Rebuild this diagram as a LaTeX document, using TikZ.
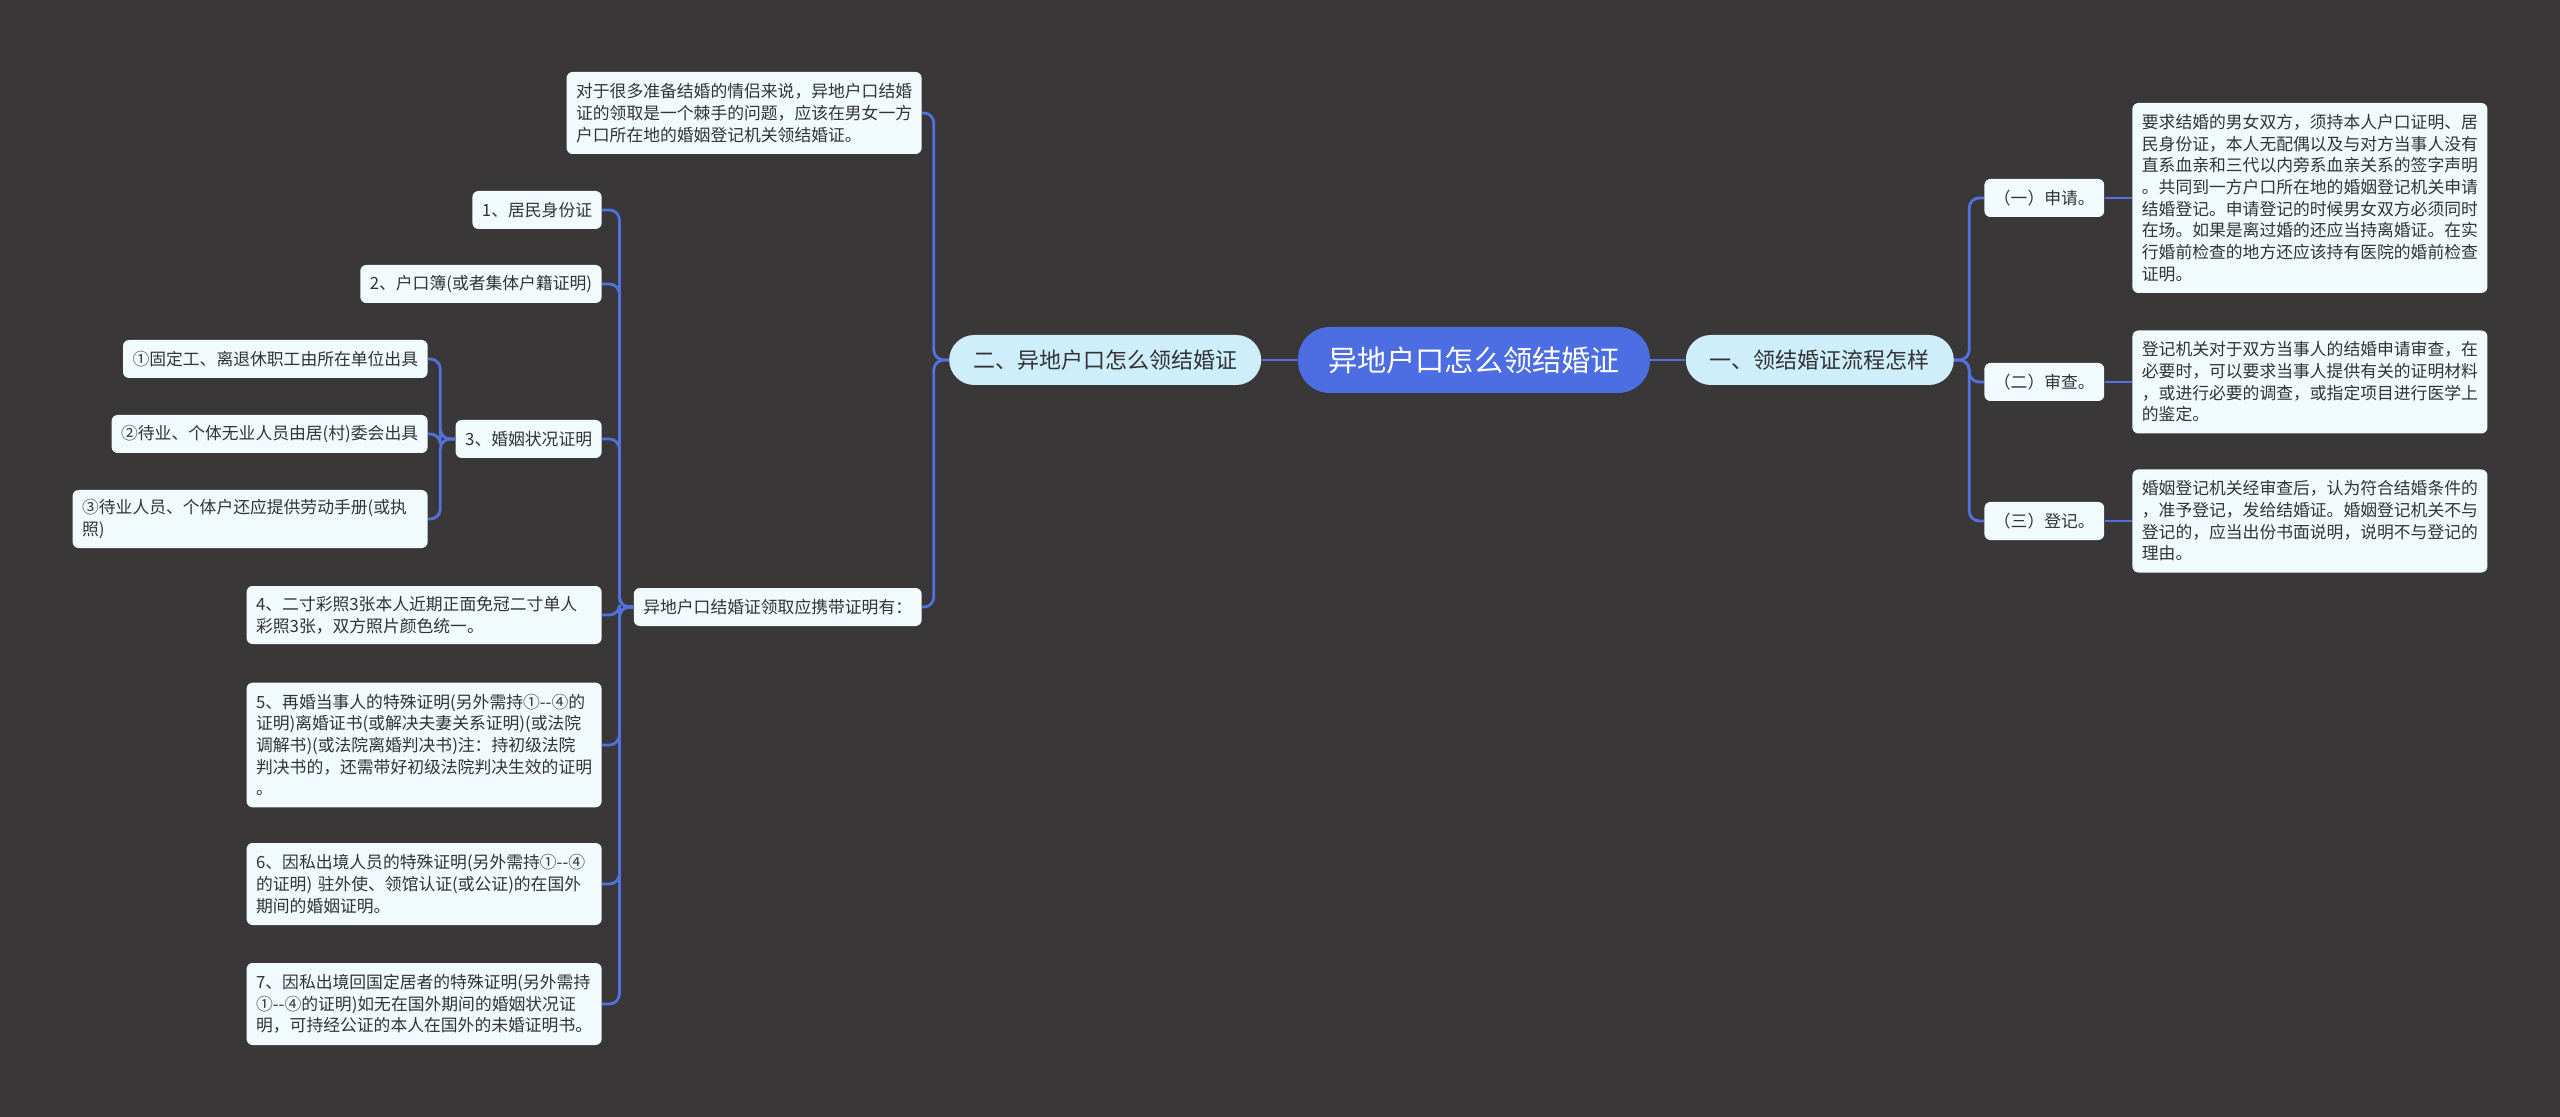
\documentclass[tikz,border=0pt]{standalone}
\usepackage{fontspec}
\setmainfont{Noto Sans CJK SC}
\usepackage{tikz}
\usepackage{xcolor}
\usetikzlibrary{positioning}
\definecolor{bgdark}{RGB}{57,55,55}
\definecolor{linkblue}{RGB}{82,112,222}
\definecolor{rootblue}{RGB}{76,110,226}
\definecolor{branchcyan}{RGB}{206,238,251}
\definecolor{leafwhite}{RGB}{241,250,253}
\definecolor{inkgray}{RGB}{51,51,51}
\tikzstyle{rootbox}  = [rectangle, rounded corners=16pt, minimum height=33pt, inner xsep=15pt,
                        fill=rootblue, text=white, font=\fontsize{14.6}{17}\selectfont]
\tikzstyle{branch}   = [rectangle, rounded corners=12.5pt, minimum height=25pt, inner xsep=12pt,
                        fill=branchcyan, text=inkgray, font=\fontsize{11}{13}\selectfont]
\tikzstyle{leaf}     = [rectangle, rounded corners=3pt, minimum height=19pt, inner xsep=4.75pt,
                        inner ysep=3pt, fill=leafwhite, text=inkgray, align=left,
                        font=\fontsize{8.4}{10.85}\selectfont]
\tikzstyle{leafwide} = [leaf, text width=168pt]
\tikzstyle{link}     = [draw=linkblue, line width=1.4pt, rounded corners=5pt]

\begin{document}
\begin{tikzpicture}[x=0.5pt, y=-0.5pt]
    \fill[bgdark] (0,0) rectangle (2560,1117);
    \useasboundingbox (0,0) rectangle (2560,1117);

    % centre and the two branches
    \node (root) [rootbox] at (1474,360) {异地户口怎么领结婚证};
    \node (yi) [branch, right=17.5pt of root] {一、领结婚证流程怎样};
    \node (er) [branch, left=18pt of root] {二、异地户口怎么领结婚证};

    % right side
    \node (shenqing) [leaf, anchor=west] at (1984,198) {（一）申请。};
    \node (shencha) [leaf, anchor=west] at (1984,382) {（二）审查。};
    \node (dengji) [leaf, anchor=west] at (1984,521) {（三）登记。};
    \node (shenqingtxt) [leafwide, minimum height=95pt, anchor=west] at (2132,198) {要求结婚的男女双方，须持本人户口证明、居\\民身份证，本人无配偶以及与对方当事人没有\\直系血亲和三代以内旁系血亲关系的签字声明\\。共同到一方户口所在地的婚姻登记机关申请\\结婚登记。申请登记的时候男女双方必须同时\\在场。如果是离过婚的还应当持离婚证。在实\\行婚前检查的地方还应该持有医院的婚前检查\\证明。};
    \node (shenchatxt) [leafwide, minimum height=51.5pt, anchor=west] at (2132,382) {登记机关对于双方当事人的结婚申请审查，在\\必要时，可以要求当事人提供有关的证明材料\\，或进行必要的调查，或指定项目进行医学上\\的鉴定。};
    \node (dengjitxt) [leafwide, minimum height=51.5pt, anchor=west] at (2132,521) {婚姻登记机关经审查后，认为符合结婚条件的\\，准予登记，发给结婚证。婚姻登记机关不与\\登记的，应当出份书面说明，说明不与登记的\\理由。};

    % left side
    \node (intro) [leafwide, minimum height=41pt, anchor=east] at (922,113) {对于很多准备结婚的情侣来说，异地户口结婚\\证的领取是一个棘手的问题，应该在男女一方\\户口所在地的婚姻登记机关领结婚证。};
    \node (xiedai) [leaf, anchor=east] at (922,607) {异地户口结婚证领取应携带证明有：};
    \node (shenfen) [leaf, anchor=east] at (602,210) {1、居民身份证};
    \node (hukou) [leaf, anchor=east] at (602,284) {2、户口簿(或者集体户籍证明)};
    \node (hunyin) [leaf, anchor=east] at (602,439) {3、婚姻状况证明};
    \node (zhaopian) [leafwide, minimum height=29pt, anchor=east] at (602,615) {4、二寸彩照3张本人近期正面免冠二寸单人\\彩照3张，双方照片颜色统一。};
    \node (zaihun) [leafwide, minimum height=62.3pt, anchor=east] at (602,745) {5、再婚当事人的特殊证明(另外需持①-{}-④的\\证明)离婚证书(或解决夫妻关系证明)(或法院\\调解书)(或法院离婚判决书)注：持初级法院\\判决书的，还需带好初级法院判决生效的证明\\。};
    \node (chujing) [leafwide, minimum height=41pt, anchor=east] at (602,884) {6、因私出境人员的特殊证明(另外需持①-{}-④\\的证明) 驻外使、领馆认证(或公证)的在国外\\期间的婚姻证明。};
    \node (huiguo) [leafwide, minimum height=41pt, anchor=east] at (602,1004) {7、因私出境回国定居者的特殊证明(另外需持\\①-{}-④的证明)如无在国外期间的婚姻状况证\\明，可持经公证的本人在国外的未婚证明书。};
    \node (gudinggong) [leaf, anchor=east] at (428,359) {①固定工、离退休职工由所在单位出具};
    \node (daiye) [leaf, anchor=east] at (428,434) {②待业、个体无业人员由居(村)委会出具};
    \node (getihu) [leafwide, minimum height=29pt, anchor=east] at (428,519) {③待业人员、个体户还应提供劳动手册(或执\\照)};

    % connectors
    \draw[link] (root.east) -- (yi.west);
    \draw[link] (root.west) -- (er.east);
    \foreach \n in {shenqing, shencha, dengji}
        \draw[link] (yi.east) -- ++(15,0) |- (\n.west);
    \foreach \a/\b in {shenqing/shenqingtxt, shencha/shenchatxt, dengji/dengjitxt}
        \draw[link] (\a.east) -- (\b.west);
    \foreach \n in {intro, xiedai}
        \draw[link] (er.west) -- ++(-15,0) |- (\n.east);
    \foreach \n in {shenfen, hukou, hunyin, zhaopian, zaihun, chujing, huiguo}
        \draw[link] (xiedai.west) -- ++(-14,0) |- (\n.east);
    \foreach \n in {gudinggong, daiye, getihu}
        \draw[link] (hunyin.west) -- ++(-15,0) |- (\n.east);
\end{tikzpicture}
\end{document}
